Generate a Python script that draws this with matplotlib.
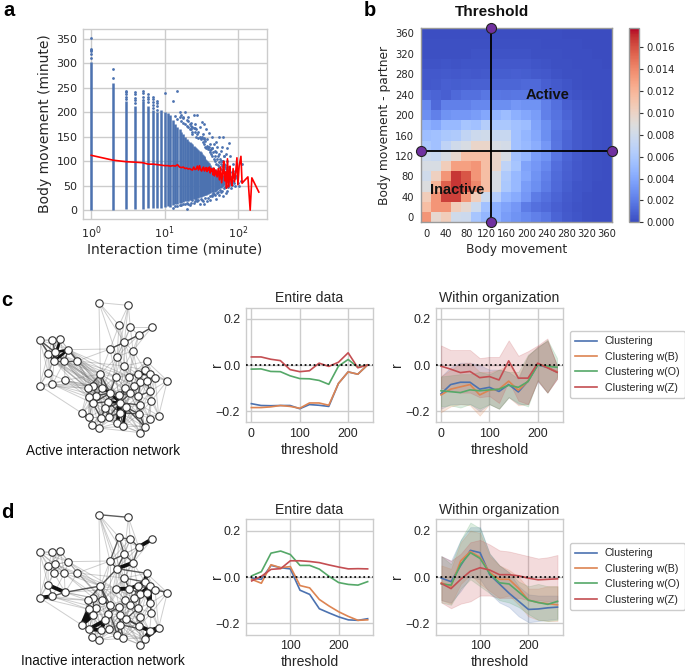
import matplotlib
matplotlib.use('Agg')
import matplotlib.pyplot as plt
import numpy as np

plt.rcParams['font.family'] = ['Liberation Sans', 'DejaVu Sans']
W, H = 685, 669
GRID = '#cccccc'
TXT = '#262626'
COLORS = ['#4c72b0', '#dd8452', '#55a868', '#c44e52']
NAMES = ['Clustering', 'Clustering w(B)', 'Clustering w(O)', 'Clustering w(Z)']

# ---- panel a : columns of points
col_x = [1, 2, 3, 4, 5, 6, 7, 8, 9, 10, 11, 12, 13, 14, 15, 16, 17, 18, 19, 20, 21, 22, 23, 24, 25, 26, 27, 28, 29,
         30, 31, 32, 33, 34, 35, 36, 37, 38, 39, 40, 42, 44, 46, 48, 50, 52, 54, 56, 58, 60, 62, 64]
col_low = [0, 0, 2, 3, 3, 4, 4, 5, 5, 6, 8, 7, 10, 12, 12, 14, 15, 16, 18, 18, 19, 20, 20, 22, 22, 23, 24, 25, 25,
           26, 27, 28, 28, 30, 30, 32, 32, 33, 33, 35, 36, 37, 38, 38, 40, 42, 44, 45, 46, 48, 50, 52]
col_high = [302, 260, 222, 212, 222, 212, 205, 200, 205, 200, 198, 195, 185, 175, 170, 165, 160, 155, 150, 145, 142,
            140, 138, 135, 132, 130, 128, 125, 122, 120, 118, 115, 112, 110, 108, 105, 102, 100, 98, 96, 92, 88,
            86, 84, 82, 80, 78, 76, 74, 72, 70, 68]
far_x = [1, 1, 1, 1, 1, 1, 2, 2, 3, 3, 3, 3, 3, 4, 4, 4, 4, 4, 5, 5, 5, 5, 6, 6, 6, 6, 7, 7, 7, 7, 7, 8, 8, 8, 8, 10, 13,
         15, 16, 17, 18, 19, 20, 21, 23, 25, 22, 24, 26, 28, 30, 29, 32,
         34, 33, 37, 40, 44, 38, 42, 47, 50, 52, 55, 58, 60, 62, 65, 70, 75, 72, 68, 78, 85, 62, 55, 48, 45, 36, 35, 27,
         24, 20, 22, 25, 19, 17, 15, 28, 32, 35, 38, 41, 45, 50, 55, 62, 68, 72, 80, 90, 100, 105, 110, 85, 95, 75, 70,
         60, 52, 47, 30, 27, 24, 66, 74, 82, 58, 64, 70, 76, 86, 92, 43, 39, 31, 26, 23, 18, 21, 56, 63, 80, 88, 96, 115,
         14, 15, 16, 17, 18, 19, 20, 21, 22, 23, 24, 25, 26, 27, 28, 29, 30, 31, 32, 33, 34, 35, 36, 37, 38, 39, 40, 41,
         42, 43, 44, 45, 46, 47, 48, 49, 50, 51, 52, 53, 54, 55, 56, 57, 58, 59, 60, 61, 63, 64, 66, 67, 69, 71, 73, 76,
         79, 82, 85, 88, 92, 65, 70, 75, 68, 62,
         13, 14, 16, 18, 20, 21, 23, 26, 29, 31, 33, 36, 39, 42, 44, 46, 49, 53, 57, 59, 64, 67, 74, 78, 83]
far_y = [352, 330, 328, 325, 318, 310, 288, 270, 228, 232, 238, 241, 243, 218, 225, 230, 238, 241, 243, 240, 232, 225,
         220, 228, 232, 237, 208, 215, 220, 228, 232, 205, 212, 218, 223, 240, 223, 243, 200, 195, 190, 200, 185,
         190, 178, 195, 165, 170, 175, 195, 170, 160, 180, 175, 155, 165, 158, 150, 145, 135, 135, 140, 130, 150, 120,
         130, 150, 110, 128, 138, 100, 115, 110, 95, 100, 115, 120, 128, 130, 145, 150, 155, 3, 10, 15, 12, 10, 8, 18,
         20, 12, 18, 20, 28, 22, 30, 28, 35, 40, 45, 50, 55, 50, 60, 60, 70, 60, 50, 40, 35, 33, 12, 22, 20, 88, 82, 78,
         100, 95, 72, 65, 75, 80, 125, 130, 148, 168, 172, 188, 183, 48, 55, 68, 70, 85, 95,
         192, 186, 190, 183, 178, 176, 172, 170, 176, 165, 160, 168, 160, 165, 155, 148, 150, 145, 150, 140, 148, 135,
         142, 128, 132, 125, 130, 118, 122, 115, 128, 110, 118, 105, 110, 100, 118, 95, 105, 92, 110, 98, 88, 105, 95,
         85, 100, 90, 82, 110, 92, 78, 85, 72, 88, 75, 68, 60, 72, 55, 65, 70, 60, 52, 50, 60,
         5, 8, 10, 12, 15, 12, 15, 18, 20, 22, 18, 25, 25, 28, 32, 35, 32, 38, 42, 38, 45, 48, 48, 55, 52]
mean_x = [1, 2, 3, 4, 5, 6, 7, 8, 9, 10, 11, 12, 13, 14, 15, 16, 17, 18, 19, 20, 21, 22, 23, 24, 25, 26, 27, 28, 29, 30,
          31, 32, 33, 34, 35, 36, 37, 38, 39, 40, 41, 42, 43, 44, 45, 46, 47, 48, 50, 52, 54, 56, 58, 60, 62, 64, 66,
          68, 70, 72, 75, 78, 80, 83, 86, 90, 93, 97, 100, 104, 110, 114, 122, 137, 147, 155, 193]
mean_y = [112, 102, 99, 98, 97, 94, 94, 93, 92, 91, 91, 90, 91, 90, 93, 88, 87, 88, 85, 86, 84, 85, 83, 82, 88, 83, 84,
          90, 82, 91, 83, 80, 85, 88, 80, 85, 87, 79, 86, 82, 88, 76, 85, 80, 84, 72, 86, 70, 82, 68, 85, 62, 88, 56, 75,
          100, 60, 78, 45, 105, 48, 90, 62, 50, 85, 58, 75, 107, 52, 90, 110, 55, 60, 68, 0, 66, 37]

# ---- panel b : density per 20 minute bin, bottom row first
bin_ticks = [0, 40, 80, 120, 160, 200, 240, 280, 320, 360]
density = [
    [.0135, .0095, .0105, .0080, .0078, .0058, .0048, .0045, .0035, .0030, .0026, .0022, .0018, .0010, .0006, .0004, .0002, .0001, .0001],
    [.0115, .0135, .0135, .0105, .0095, .0078, .0055, .0045, .0038, .0032, .0020, .0015, .0012, .0008, .0005, .0003, .0002, .0001, .0001],
    [.0105, .0135, .0165, .0165, .0135, .0105, .0078, .0065, .0048, .0042, .0032, .0020, .0015, .0010, .0006, .0004, .0002, .0001, .0001],
    [.0088, .0120, .0155, .0168, .0160, .0140, .0115, .0085, .0060, .0050, .0035, .0028, .0020, .0012, .0007, .0004, .0003, .0001, .0001],
    [.0080, .0102, .0135, .0168, .0158, .0135, .0115, .0085, .0062, .0050, .0040, .0030, .0022, .0013, .0008, .0005, .0003, .0002, .0001],
    [.0085, .0085, .0105, .0130, .0130, .0135, .0115, .0098, .0070, .0058, .0038, .0032, .0025, .0014, .0009, .0005, .0003, .0002, .0001],
    [.0078, .0075, .0085, .0095, .0115, .0115, .0115, .0098, .0085, .0055, .0048, .0035, .0030, .0017, .0010, .0006, .0003, .0002, .0001],
    [.0060, .0055, .0070, .0080, .0085, .0098, .0098, .0085, .0082, .0055, .0050, .0043, .0032, .0017, .0010, .0006, .0004, .0002, .0001],
    [.0053, .0055, .0060, .0062, .0072, .0078, .0080, .0075, .0075, .0055, .0048, .0040, .0028, .0016, .0010, .0006, .0004, .0002, .0001],
    [.0045, .0040, .0050, .0050, .0058, .0055, .0065, .0060, .0060, .0055, .0052, .0038, .0028, .0018, .0012, .0006, .0004, .0002, .0001],
    [.0028, .0022, .0030, .0032, .0032, .0035, .0040, .0048, .0052, .0045, .0040, .0035, .0022, .0016, .0010, .0006, .0003, .0002, .0001],
    [.0025, .0012, .0022, .0022, .0022, .0025, .0025, .0028, .0028, .0032, .0030, .0030, .0022, .0015, .0008, .0005, .0003, .0002, .0001],
    [.0012, .0010, .0008, .0012, .0015, .0015, .0018, .0018, .0017, .0018, .0018, .0015, .0012, .0008, .0005, .0003, .0002, .0001, .0001],
    [.0005, .0006, .0008, .0007, .0008, .0009, .0009, .0011, .0011, .0011, .0012, .0012, .0008, .0006, .0004, .0002, .0001, .0001, .0001],
    [.0005, .0005, .0006, .0005, .0006, .0005, .0006, .0007, .0007, .0008, .0007, .0006, .0005, .0003, .0002, .0002, .0001, .0001, .0001],
    [.0003, .0003, .0004, .0003, .0004, .0004, .0004, .0005, .0005, .0005, .0005, .0004, .0003, .0002, .0002, .0001, .0001, .0001, .0000],
    [.0002, .0002, .0002, .0002, .0002, .0003, .0003, .0003, .0003, .0003, .0003, .0002, .0002, .0002, .0001, .0001, .0001, .0000, .0000],
    [.0002, .0002, .0002, .0002, .0002, .0002, .0002, .0002, .0002, .0002, .0002, .0002, .0001, .0001, .0001, .0001, .0000, .0000, .0000],
    [.0001, .0001, .0001, .0001, .0001, .0001, .0001, .0001, .0001, .0001, .0001, .0001, .0001, .0001, .0000, .0000, .0000, .0000, .0000],
]
threshold = 130

# ---- panels c, d : correlation against threshold
c_x = [0, 20, 40, 60, 80, 100, 120, 140, 160, 180, 200, 220, 240]
d_x = [20, 40, 60, 80, 100, 120, 140, 160, 180, 200, 220, 240, 260]

c_entire = [
    [-.168, -.176, -.177, -.176, -.176, -.190, -.172, -.175, -.180, -.080, -.030, -.040, 0],
    [-.185, -.185, -.182, -.176, -.180, -.188, -.165, -.165, -.175, -.080, -.030, -.040, 0],
    [-.018, -.017, -.028, -.029, -.047, -.059, -.060, -.067, -.084, -.005, .024, -.010, 0],
    [.035, .035, .025, .019, -.020, -.029, -.025, .008, -.006, .012, .053, -.012, 0],
]
c_within = [
    [-.125, -.085, -.075, -.075, -.105, -.097, -.115, -.085, -.117, -.070, 0, -.010, -.030],
    [-.130, -.105, -.095, -.085, -.130, -.110, -.105, -.070, -.110, -.070, .005, -.010, -.030],
    [-.112, -.116, -.120, -.108, -.112, -.108, -.105, -.088, -.097, -.072, 0, -.005, -.010],
    [-.005, -.018, -.033, -.028, -.055, -.050, -.065, .018, -.057, -.057, .008, -.012, -.032],
]
c_low = [
    [-.190, -.170, -.170, -.170, -.200, -.170, -.190, -.140, -.170, -.170, -.070, -.120, -.060],
    [-.205, -.180, -.170, -.175, -.220, -.170, -.190, -.140, -.175, -.170, -.065, -.120, -.060],
    [-.180, -.175, -.185, -.170, -.190, -.170, -.190, -.140, -.165, -.180, -.065, -.120, -.050],
    [-.100, -.110, -.120, -.120, -.140, -.135, -.165, -.070, -.155, -.170, -.070, -.120, -.060],
]
c_high = [
    [-.050, -.010, .010, .010, 0, -.020, -.020, -.030, -.060, .040, .080, .105, 0],
    [-.050, -.020, .005, .010, -.030, -.030, -.020, 0, -.050, .040, .080, .105, 0],
    [-.050, -.045, -.040, -.040, -.030, -.040, -.020, -.030, -.030, .045, .075, .110, .030],
    [.085, .065, .065, .065, .030, .035, .035, .107, .040, .060, .085, .115, -.005],
]

d_entire = [
    [-.005, -.010, .050, .040, .035, -.057, -.075, -.137, -.155, -.172, -.185, -.187, -.180],
    [-.010, -.027, .053, .040, .045, -.037, -.047, -.097, -.125, -.150, -.170, -.187, -.185],
    [.005, .023, .103, .112, .097, .050, .050, .034, .003, -.024, -.032, -.035, -.020],
    [-.017, .003, .033, .036, .070, .070, .067, .062, .052, .043, .035, .036, .035],
]
d_within = [
    [-.005, -.020, .050, .115, .105, .010, -.030, -.070, -.105, -.140, -.138, -.133, -.130],
    [-.025, -.040, .070, .110, .085, .020, -.010, -.010, -.050, -.100, -.110, -.115, -.120],
    [-.030, -.035, .055, .105, .080, .015, -.025, -.030, -.065, -.100, -.110, -.118, -.105],
    [-.028, -.050, -.010, .025, .040, .030, .010, .010, .005, -.005, -.012, -.010, -.008],
]
d_low = [
    [-.100, -.110, -.060, 0, -.010, -.070, -.110, -.130, -.170, -.195, -.190, -.185, -.180],
    [-.100, -.115, -.030, .010, -.030, -.060, -.090, -.080, -.120, -.170, -.185, -.190, -.190],
    [-.110, -.120, -.050, -.010, -.040, -.070, -.100, -.110, -.130, -.160, -.185, -.190, -.185],
    [-.110, -.135, -.115, -.105, -.080, -.080, -.090, -.090, -.090, -.100, -.100, -.105, -.110],
]
d_high = [
    [.090, .070, .160, .215, .215, .100, .050, .020, -.040, -.075, -.080, -.080, -.080],
    [.050, .035, .150, .200, .190, .090, .050, .030, 0, -.050, -.050, -.040, -.040],
    [.090, .055, .160, .235, .210, .100, .050, .020, -.020, -.040, -.030, -.040, -.040],
    [.090, .070, .100, .150, .160, .140, .115, .110, .100, .090, .080, .085, .095],
]

# ---- network layout shared by both networks
node_x = [207, 295, 267, 301, 365, 326, 283, 240, 309, 261, 29, 67, 91, 115, 54, 75, 72, 103, 142, 55, 29, 67, 105,
          350, 283, 345, 211, 257, 298, 323, 360, 375, 412, 331, 350, 312, 285, 189, 174, 217, 240, 199, 176, 267,
          301, 325, 360, 233, 270, 189, 364, 330, 225, 287, 270, 155, 176, 213, 237, 328, 386, 359, 262, 187, 207,
          280, 344, 331]
node_y = [23, 31, 91, 97, 97, 120, 142, 162, 167, 185, 135, 135, 133, 164, 178, 172, 198, 199, 198, 234, 272, 268, 256,
          199, 213, 225, 237, 246, 245, 236, 238, 248, 257, 260, 258, 272, 279, 272, 280, 279, 294, 302, 307, 300,
          295, 303, 289, 320, 323, 325, 318, 330, 340, 337, 353, 354, 367, 369, 367, 357, 362, 371, 384, 391, 399,
          394, 395, 413]

active_weak = {
    0: [1, 6, 9, 2, 26], 1: [2, 3, 6, 9], 2: [6, 7, 9, 24], 3: [6, 4, 5, 9, 8], 4: [5, 8], 5: [6, 8, 9, 7, 28],
    6: [7, 8, 9, 24, 27, 28, 29], 7: [9, 26, 13, 18, 27], 8: [9, 24, 28, 29, 25], 9: [24, 26, 27, 28, 36, 39, 40],
    10: [11, 12, 14, 15, 16, 19, 20, 13], 11: [12, 13, 14, 15, 16, 17], 12: [13, 14, 15, 16, 17, 18],
    13: [14, 15, 16, 17, 18, 26, 39, 40, 43, 28, 27, 37], 14: [15, 16, 17, 19, 20, 21, 37, 38],
    15: [16, 17, 18, 19, 26, 39, 40, 43, 47], 16: [17, 18, 19, 20, 21, 37, 38, 39, 41, 42],
    17: [18, 22, 21, 26, 37, 39, 40, 38, 41, 43], 18: [26, 27, 37, 39, 40, 41, 24, 28, 38, 43],
    19: [20, 21, 22], 20: [21, 22, 55, 38], 21: [22, 38, 37, 42, 49, 41], 22: [37, 38, 26, 39, 41, 40, 42],
    23: [25, 29, 30, 31, 34, 32, 24, 28], 24: [25, 27, 28, 29, 33, 35, 36, 43, 44], 25: [28, 29, 30, 31, 33, 34, 35, 46, 32],
    26: [27, 37, 38, 39, 40, 41, 42, 43, 47, 49, 36, 44], 27: [28, 36, 39, 40, 43, 44, 47, 48, 35, 29],
    28: [29, 33, 35, 36, 40, 43, 44, 45, 48, 51], 29: [30, 33, 34, 35, 44, 45, 46], 30: [31, 32, 34, 46, 50],
    31: [32, 34, 46, 50, 60], 32: [46, 50, 60], 33: [34, 35, 36, 44, 45, 46, 50, 51], 34: [35, 45, 46, 50, 51],
    35: [36, 43, 44, 45, 48, 51, 53, 59], 36: [40, 43, 44, 47, 48, 53, 54, 52], 37: [38, 39, 40, 41, 42, 47, 49, 52, 57],
    38: [39, 41, 42, 49, 55, 56, 63], 39: [40, 41, 42, 43, 47, 48, 49, 52, 54, 57], 40: [41, 42, 43, 44, 47, 48, 49, 52, 53, 54, 57, 58, 62],
    41: [42, 47, 49, 52, 56, 57, 58, 55], 42: [49, 55, 56, 63, 57], 43: [44, 45, 47, 48, 52, 53, 54, 58, 62, 65, 59],
    44: [45, 47, 48, 51, 53, 54, 59, 62, 66], 45: [46, 48, 50, 51, 53, 59, 61, 66, 65], 46: [50, 51, 59, 60, 61],
    47: [48, 49, 52, 53, 54, 57, 58, 62, 64, 63, 65], 48: [51, 52, 53, 54, 58, 59, 62, 65, 66, 64, 67],
    49: [52, 55, 56, 57, 63, 64, 58], 50: [51, 59, 60, 61, 66], 51: [53, 59, 61, 66, 67, 60, 65], 52: [54, 56, 57, 58, 62, 63, 64, 65],
    53: [54, 58, 59, 62, 65, 66, 67], 54: [57, 58, 59, 62, 64, 65, 66, 67], 55: [56, 63, 64], 56: [57, 63, 64, 58],
    57: [58, 62, 63, 64, 65], 58: [62, 64, 65], 59: [61, 65, 66, 67, 60], 60: [61, 66], 61: [66, 67], 62: [64, 65, 66, 67],
    63: [64], 64: [65, 67], 65: [66, 67], 66: [67],
}
active_mid = [(5, 4), (6, 5), (7, 6), (10, 15), (10, 16), (11, 15), (12, 15), (15, 17), (13, 17), (14, 16), (16, 18),
              (13, 18), (39, 37), (40, 47), (40, 52), (47, 54), (48, 53), (43, 44), (44, 45), (29, 25), (28, 29),
              (45, 46), (53, 66), (59, 66), (38, 26), (26, 39), (41, 40), (48, 58), (54, 65), (33, 29), (43, 47),
              (26, 40), (37, 41), (38, 42), (39, 41), (40, 43), (40, 49), (47, 49), (47, 52), (52, 58), (58, 54),
              (54, 53), (48, 52), (53, 59), (44, 48), (36, 48), (36, 44), (35, 44), (45, 51), (51, 59), (33, 45),
              (34, 46), (30, 31), (54, 59), (62, 65), (48, 51), (47, 58), (43, 36), (27, 40), (49, 57), (52, 57)]
active_strong = [(13, 15), (13, 16), (15, 16), (39, 40), (40, 48), (43, 48), (48, 54), (48, 62), (43, 62), (54, 62),
                 (29, 30), (25, 30), (53, 65), (48, 47), (16, 12)]

inactive_weak = {
    0: [2, 6, 7, 9, 26, 24], 1: [3, 5, 6], 2: [5, 8, 9], 3: [6, 7, 8, 9], 4: [8, 6], 5: [7, 9, 24], 6: [24, 27, 28],
    7: [26, 13, 18, 39, 40, 24], 8: [24, 28, 29, 25], 9: [26, 27, 28, 36, 39, 40, 44],
    10: [11, 12, 14, 15, 16, 19, 20, 13, 17], 11: [12, 13, 14, 15, 16, 17], 12: [13, 14, 15, 16, 17, 18],
    13: [14, 15, 16, 17, 18, 26, 39, 27], 14: [15, 16, 17, 19, 20], 15: [16, 17, 18, 26], 16: [17, 18, 19, 20, 22],
    17: [18, 22, 21, 26, 37, 39], 18: [26, 27, 22, 39, 40, 24], 19: [20, 22], 20: [38, 55, 42],
    21: [38, 42, 41], 22: [37, 26, 39, 27, 38],
    23: [29, 31, 32, 24], 24: [28, 36, 43, 27, 39, 40], 25: [28, 32, 35, 31],
    26: [37, 39, 40, 41, 43, 27, 38, 44], 27: [36, 39, 40, 43, 44, 35], 28: [35, 36, 43, 44, 45, 51],
    30: [32, 50], 31: [32, 60], 32: [46, 50, 60], 33: [35, 44, 45, 51], 34: [45, 50, 51], 35: [36, 43, 44, 45, 53, 59],
    36: [40, 43, 44, 47, 48, 53, 54], 37: [38, 39, 41, 42, 47, 49, 52], 38: [39, 41, 42, 49, 55, 56],
    39: [41, 43, 47, 48, 49, 52], 40: [42, 43, 44, 47, 49, 52, 53, 57, 58, 62], 41: [42, 47, 49, 52, 56, 57, 58],
    42: [49, 55, 63, 57], 43: [44, 45, 47, 48, 52, 53, 54, 58, 62, 65, 59], 44: [45, 47, 48, 51, 53, 54, 59, 62, 66],
    45: [46, 48, 50, 51, 53, 59, 61, 66, 65], 46: [50, 51, 59, 60], 47: [48, 49, 54, 58, 62, 64, 63, 65],
    48: [51, 52, 53, 54, 58, 59, 62, 65, 66, 64, 67], 49: [56, 57, 63, 64, 58], 50: [51, 59, 60, 61], 51: [53, 59, 61, 66, 67, 65],
    52: [54, 57, 58, 62, 63, 64, 65], 53: [54, 58, 59, 62, 65, 66, 67], 54: [57, 58, 59, 62, 64, 65, 66, 67],
    56: [63, 64], 57: [62, 63, 64, 65], 58: [62, 64, 65, 66], 59: [65, 66, 67], 60: [66], 62: [65, 66, 67, 64], 64: [65], 65: [66, 67],
}
inactive_mid = [(0, 1), (2, 3), (3, 5), (2, 7), (7, 6), (2, 6), (5, 8), (6, 8), (9, 26), (9, 23), (24, 25), (23, 25),
                (26, 38), (22, 19), (22, 21), (19, 21), (22, 26), (40, 26), (28, 33), (29, 32), (46, 50),
                (44, 45), (37, 39), (39, 40), (47, 52), (43, 48), (48, 54), (54, 61), (53, 59), (40, 47), (47, 43),
                (38, 42), (26, 62), (62, 54), (24, 28), (7, 9), (6, 9), (14, 15), (43, 54), (45, 53), (48, 59),
                (54, 65), (62, 65), (57, 58), (49, 41), (37, 49), (51, 59), (29, 35), (33, 45), (36, 44)]
inactive_strong = [(4, 5), (9, 8), (27, 28), (28, 29), (19, 22), (20, 21), (41, 49), (41, 55), (49, 55), (52, 56),
                   (52, 57), (56, 57), (33, 34), (29, 25), (25, 30), (29, 33), (34, 46), (30, 46), (33, 30), (30, 31),
                   (61, 60), (66, 61), (66, 60), (59, 61), (42, 55), (23, 25)]


def box(x0, y0, x1, y1):
    # pixel box (from the top left corner) -> matplotlib axes
    return fig.add_axes([x0 / W, 1 - y1 / H, (x1 - x0) / W, (y1 - y0) / H])


def fig_text(px, py, s, **kw):
    fig.text(px / W, 1 - py / H, s, **kw)


def draw_network(x0, y0, weak, mid, strong, strong_lw, label, label_y):
    ax = box(x0, y0, x0 + 150, y0 + 150)
    ax.set_xlim(0, 450)
    ax.set_ylim(450, 0)
    ax.axis('off')
    for a, others in weak.items():
        for b in others:
            ax.plot([node_x[a], node_x[b]], [node_y[a], node_y[b]], color='#777777', lw=0.7, alpha=0.36, zorder=1)
    for a, b in mid:
        ax.plot([node_x[a], node_x[b]], [node_y[a], node_y[b]], color='#333333', lw=1.0, alpha=0.8, zorder=2)
    for a, b in strong:
        ax.plot([node_x[a], node_x[b]], [node_y[a], node_y[b]], color='#111111', lw=strong_lw, zorder=3)
    ax.scatter(node_x, node_y, s=29, c='white', edgecolors='#333333', linewidths=0.8, zorder=4, clip_on=False)
    fig_text(103, label_y, label, ha='center', va='center', fontsize=9.75, color='#111111')


def draw_lines(pos, title, xs, lines, xlim, xticks, low=None, high=None, ylabel_x=None):
    ax = box(*pos)
    for i in range(4):
        if low is not None:
            ax.fill_between(xs, low[i], high[i], color=COLORS[i], alpha=0.2, lw=0.6)
    handles = []
    for i in range(4):
        line, = ax.plot(xs, lines[i], color=COLORS[i], lw=1.2, label=NAMES[i])
        handles.append(line)
    ax.axhline(0, color='black', ls=(0, (1, 1.6)), lw=1.25, zorder=5)
    ax.set_xlim(*xlim)
    ax.set_ylim(-0.249, 0.249)
    ax.set_xticks(xticks)
    ax.set_yticks([-0.2, 0, 0.2])
    ax.set_yticklabels(['\u22120.2', '0.0', '0.2'])
    ax.grid(True, color=GRID, lw=1)
    ax.set_axisbelow(True)
    ax.tick_params(length=0, labelsize=8.9, labelcolor=TXT, pad=4)
    for s in ax.spines.values():
        s.set_color(GRID)
        s.set_linewidth(1)
    ax.set_title(title, fontsize=10.1, color=TXT, pad=4)
    ax.set_xlabel('threshold', fontsize=10.1, color=TXT, labelpad=2)
    fig_text(ylabel_x, (pos[1] + pos[3]) / 2, 'r', fontsize=10.1, color=TXT, rotation=90, ha='center', va='center')
    return ax, handles


fig = plt.figure(figsize=(W / 100, H / 100), dpi=100)

# panel a
ax_a = box(83, 29, 267, 219)
ax_a.vlines(col_x, col_low, col_high, color=COLORS[0], lw=1.8, zorder=2)
ax_a.scatter(far_x, far_y, s=4, color=COLORS[0], linewidths=0, zorder=2)
ax_a.plot(mean_x, mean_y, color='red', lw=1.2, zorder=3)
ax_a.set_xscale('log')
ax_a.set_xlim(10 ** -0.113, 10 ** 2.397)
ax_a.set_ylim(-18, 370)
ax_a.set_yticks([0, 50, 100, 150, 200, 250, 300, 350])
ax_a.grid(True, color=GRID, lw=1)
ax_a.set_axisbelow(True)
ax_a.minorticks_off()
for s in ax_a.spines.values():
    s.set_color(GRID)
    s.set_linewidth(1)
ax_a.tick_params(length=0, labelsize=8, labelcolor=TXT, pad=4)
for t in ax_a.get_xticklabels() + ax_a.get_yticklabels():
    t.set_family('DejaVu Sans')
ax_a.set_xlabel('Interaction time (minute)', fontsize=10, family='DejaVu Sans', color=TXT, labelpad=1)
ax_a.set_ylabel('Body movement (minute)', fontsize=10, family='DejaVu Sans', color=TXT, labelpad=3)

# panel b
ax_b = box(421, 28.3, 611.7, 222.3)
edges = np.arange(-10, 371, 20)
mesh = ax_b.pcolormesh(edges, edges, np.array(density), cmap='coolwarm', vmin=0, vmax=0.01774)
ax_b.set_xticks(bin_ticks)
ax_b.set_yticks(bin_ticks)
ax_b.tick_params(length=0, labelsize=7.2, labelcolor=TXT, pad=5)
for t in ax_b.get_xticklabels() + ax_b.get_yticklabels():
    t.set_family('DejaVu Sans')
for s in ax_b.spines.values():
    s.set_color('#999999')
    s.set_linewidth(1)
ax_b.set_xlabel('Body movement', fontsize=8.8, family='DejaVu Sans', color=TXT, labelpad=3)
ax_b.set_ylabel('Body movement - partner', fontsize=8.8, family='DejaVu Sans', color=TXT, labelpad=3)
ax_b.plot([threshold, threshold], [-10, 370], color='black', lw=1.3, zorder=4, clip_on=False)
ax_b.plot([-10, 370], [threshold, threshold], color='black', lw=1.3, zorder=4, clip_on=False)
ax_b.scatter([threshold, threshold, -10, 370], [370, -10, threshold, threshold], s=52, c='#7030a0',
             edgecolors='#222222', linewidths=0.8, zorder=5, clip_on=False)
ax_b.text(243, 240, 'Active', fontsize=10.5, fontweight='bold', ha='center', va='center', color='#111111', zorder=6)
ax_b.text(62, 53, 'Inactive', fontsize=10.5, fontweight='bold', ha='center', va='center', color='#111111', zorder=6)
fig_text(492, 12, 'Threshold', fontsize=11, fontweight='bold', ha='center', va='center', color='#111111')

cax = box(628.7, 28.3, 639, 222.3)
cb = fig.colorbar(mesh, cax=cax)
cb.set_ticks([0, .002, .004, .006, .008, .010, .012, .014, .016])
cb.ax.set_yticklabels(['0.000', '0.002', '0.004', '0.006', '0.008', '0.010', '0.012', '0.014', '0.016'],
                      family='DejaVu Sans')
cb.ax.tick_params(length=3, width=0.8, labelsize=7.2, labelcolor=TXT, pad=2, color='#333333')
cb.outline.set_edgecolor('#999999')
cb.outline.set_linewidth(1)

# panels c, d : networks
draw_network(30, 295, active_weak, active_mid, active_strong, 1.9, 'Active interaction network', 451)
draw_network(30, 507, inactive_weak, inactive_mid, inactive_strong, 2.8, 'Inactive interaction network', 661)

# panels c, d : lines
draw_lines((245.7, 307.7, 373.3, 422.3), 'Entire data', c_x, c_entire, (-11.7, 252), [0, 100, 200], ylabel_x=217)
_, h = draw_lines((435.7, 307.7, 563.3, 422.3), 'Within organization', c_x, c_within, (-11, 253), [0, 100, 200],
                  c_low, c_high, ylabel_x=397)
draw_lines((245.7, 519.3, 373.3, 634.7), 'Entire data', d_x, d_entire, (7.6, 271.7), [100, 200], ylabel_x=217)
_, h2 = draw_lines((435.7, 519.3, 563.3, 634.7), 'Within organization', d_x, d_within, (8.3, 272), [100, 200],
                   d_low, d_high, ylabel_x=397)

for handles, cy in ((h, 364.5), (h2, 576.5)):
    leg = fig.legend(handles=handles, loc='center left', bbox_to_anchor=(570 / W, 1 - cy / H), frameon=True,
                     fontsize=7.7, borderaxespad=0, handlelength=2.07, labelspacing=0.5, borderpad=0.5,
                     handletextpad=0.68)
    leg.get_frame().set_edgecolor(GRID)
    leg.get_frame().set_linewidth(1)
    leg.get_frame().set_alpha(1)
    for t in leg.get_texts():
        t.set_color(TXT)

# panel letters
for px, py, s in ((9, 10, 'a'), (370, 10, 'b'), (7, 301, 'c'), (7, 513, 'd')):
    fig_text(px, py, s, fontsize=14.5, fontweight='bold', ha='center', va='center', color='black')

fig.savefig('out.png', dpi=100)
